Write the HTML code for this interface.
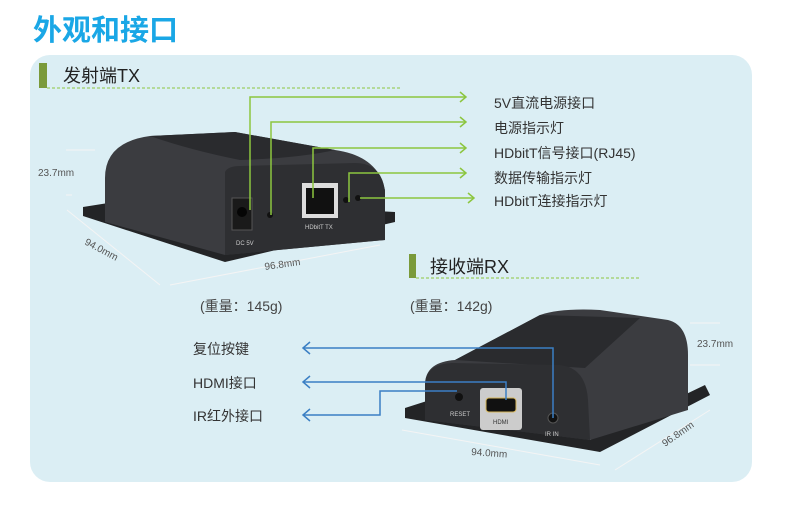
<!DOCTYPE html>
<html><head><meta charset="utf-8"><style>
body{margin:0;width:800px;height:506px;background:#fff;overflow:hidden;font-family:"Liberation Sans","Noto Sans CJK SC",sans-serif}
</style></head><body>
<svg width="800" height="506" viewBox="0 0 800 506" xmlns="http://www.w3.org/2000/svg" font-family="Liberation Sans, Noto Sans CJK SC, sans-serif">
<text x="33" y="40" font-size="29" font-weight="bold" fill="#1aa7e6" font-family="Noto Sans CJK SC, sans-serif">外观和接口</text>
<rect x="30" y="55" width="722" height="427" rx="20" fill="#dbeef4"/>
<rect x="39" y="63" width="8" height="25" fill="#7a9a3a"/>
<line x1="47" y1="88" x2="400" y2="88" stroke="#8cc63f" stroke-dasharray="3,2"/>
<text x="63" y="82" font-size="18" fill="#222">发射端TX</text>

<!-- TX device -->
<polygon points="83,207 140,198 395,212 395,222 225,262 83,216" fill="#232426"/>
<path d="M105,222 L105,178 Q105,142 150,136 L235,132 L335,150 Q378,156 385,190 L385,240 L225,255 Z" fill="#3b3c40"/>
<path d="M150,136 L235,132 L335,150 Q300,158 240,160 Q190,150 150,136 Z" fill="#2a2b2e"/>
<path d="M225,172 Q228,166 240,166 L355,163 Q382,163 385,192 L385,240 L225,255 Z" fill="#2e2f32"/>
<rect x="232" y="198" width="20" height="32" fill="#1a1a1a" stroke="#555"/>
<circle cx="242" cy="212" r="5" fill="#050505"/>
<circle cx="270" cy="215" r="3" fill="#111"/>
<rect x="302" y="183" width="36" height="35" fill="#ddd"/>
<rect x="306" y="188" width="28" height="26" fill="#111"/>
<circle cx="346" cy="200" r="3" fill="#111"/><circle cx="358" cy="198" r="3" fill="#111"/>
<text x="236" y="245" font-size="6" fill="#ccc">DC 5V</text>
<text x="305" y="229" font-size="6" fill="#ccc">HDbitT TX</text>

<g stroke="#8cc63f" stroke-width="1.5" fill="none">
<polyline points="250,210 250,97 466,97"/><polyline points="460,92 466,97 460,102"/>
<polyline points="271,215 271,122 466,122"/><polyline points="460,117 466,122 460,127"/>
<polyline points="313,198 313,148 466,148"/><polyline points="460,143 466,148 460,153"/>
<polyline points="349,202 349,173 466,173"/><polyline points="460,168 466,173 460,178"/>
<polyline points="360,198 474,198"/><polyline points="468,193 474,198 468,203"/>
</g>
<g font-size="14" fill="#333">
<text x="494" y="108">5V直流电源接口</text>
<text x="494" y="133">电源指示灯</text>
<text x="494" y="158">HDbitT信号接口(RJ45)</text>
<text x="494" y="183">数据传输指示灯</text>
<text x="494" y="206">HDbitT连接指示灯</text>
</g>
<g stroke="#f4f4f4" stroke-width="1" fill="none">
<line x1="66" y1="150" x2="95" y2="150"/><line x1="66" y1="195" x2="72" y2="195"/>
<line x1="170" y1="285" x2="380" y2="245"/><line x1="67" y1="210" x2="160" y2="285"/>
</g>
<g font-size="10" fill="#555">
<text x="38" y="176">23.7mm</text>
<text x="84" y="244" transform="rotate(28 84 244)">94.0mm</text>
<text x="265" y="270" transform="rotate(-8 265 270)">96.8mm</text>
</g>
<text x="200" y="311" font-size="14" fill="#444">(重量：145g)</text>

<rect x="409" y="254" width="7" height="24" fill="#7a9a3a"/>
<line x1="416" y1="278" x2="640" y2="278" stroke="#8cc63f" stroke-dasharray="3,2"/>
<text x="430" y="273" font-size="18" fill="#222">接收端RX</text>
<text x="410" y="311" font-size="14" fill="#444">(重量：142g)</text>

<!-- RX device -->
<polygon points="405,408 430,400 590,440 705,385 710,395 600,452 405,418" fill="#232426"/>
<path d="M425,420 L425,385 Q425,362 455,360 L540,315 Q560,308 600,310 L668,320 Q688,325 688,355 L688,410 L590,440 Z" fill="#3b3c40"/>
<path d="M455,360 L540,315 L640,318 L585,368 Z" fill="#2a2b2e"/>
<path d="M425,420 L425,385 Q425,364 452,363 L560,365 Q586,368 588,400 L590,440 Z" fill="#2e2f32"/>
<circle cx="459" cy="397" r="4" fill="#111"/>
<rect x="480" y="388" width="42" height="42" rx="3" fill="#ccc"/>
<rect x="486" y="398" width="30" height="14" rx="3" fill="#111" stroke="#d6b65a"/>
<circle cx="553" cy="418" r="5" fill="#111" stroke="#555"/>
<text x="450" y="416" font-size="6" fill="#ccc">RESET</text>
<text x="545" y="436" font-size="6" fill="#ccc">IR IN</text>
<text x="493" y="424" font-size="6" fill="#333">HDMI</text>

<g stroke="#3b7fc4" stroke-width="1.5" fill="none">
<polyline points="553,418 553,348 303,348"/><polyline points="310,342 303,348 310,354"/>
<polyline points="506,400 506,382 303,382"/><polyline points="310,376 303,382 310,388"/>
<polyline points="457,391 380,391 380,415 303,415"/><polyline points="310,409 303,415 310,421"/>
</g>
<g font-size="14" fill="#333">
<text x="193" y="354">复位按键</text>
<text x="193" y="388">HDMI接口</text>
<text x="193" y="421">IR红外接口</text>
</g>
<g stroke="#f4f4f4" stroke-width="1" fill="none">
<line x1="690" y1="323" x2="720" y2="323"/><line x1="690" y1="365" x2="720" y2="365"/>
<line x1="402" y1="430" x2="600" y2="465"/><line x1="615" y1="470" x2="710" y2="410"/>
</g>
<g font-size="10" fill="#555">
<text x="697" y="347">23.7mm</text>
<text x="471" y="455" transform="rotate(4 471 455)">94.0mm</text>
<text x="665" y="447" transform="rotate(-35 665 447)">96.8mm</text>
</g>
</svg>
</body></html>
